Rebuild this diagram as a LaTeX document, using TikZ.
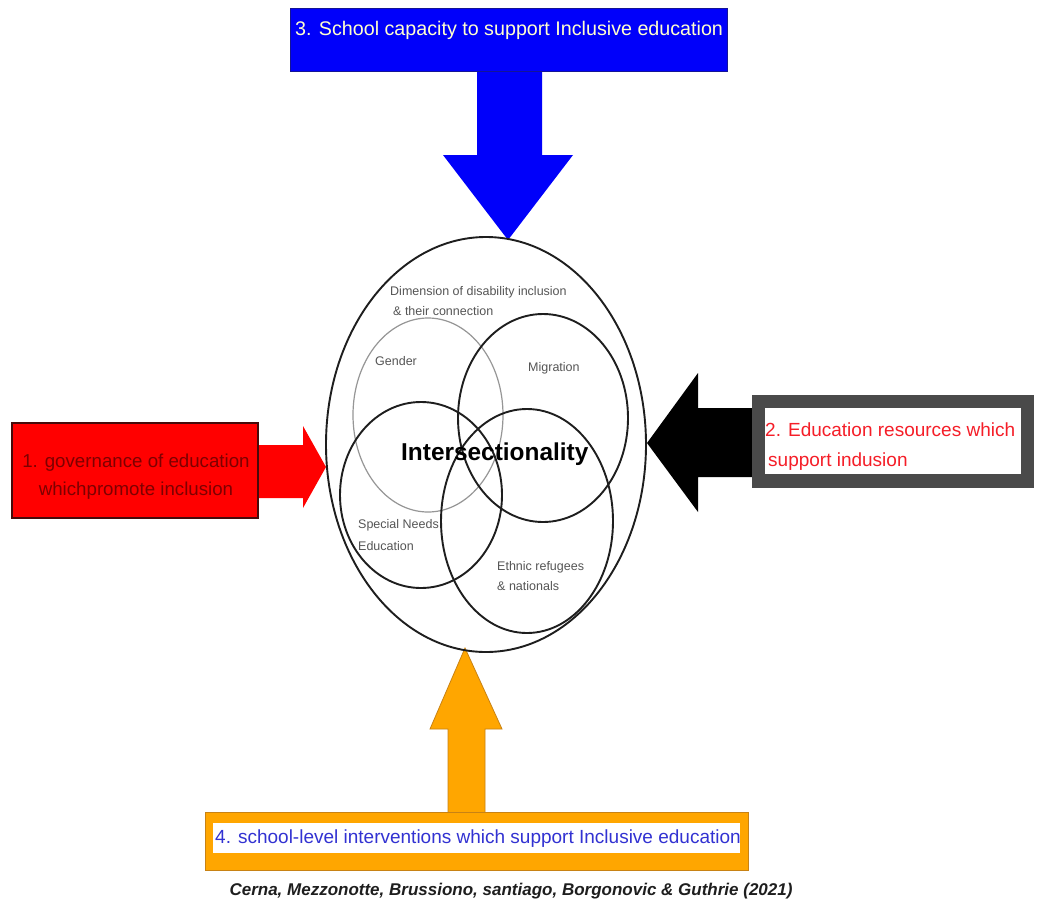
\documentclass[tikz,border=0pt]{standalone}
\usepackage{fontspec}
\setmainfont{Liberation Sans}
\definecolor{cblue}{RGB}{0,0,250}
\definecolor{cblueedge}{RGB}{20,20,150}
\definecolor{cpale}{RGB}{255,255,205}
\definecolor{cred}{RGB}{255,0,0}
\definecolor{credge}{RGB}{70,10,10}
\definecolor{cdarkred}{RGB}{125,0,0}
\definecolor{cgrayframe}{RGB}{74,74,74}
\definecolor{ctextred}{RGB}{245,30,40}
\definecolor{corange}{RGB}{255,166,0}
\definecolor{coredge}{RGB}{200,130,20}
\definecolor{ctextblue}{RGB}{50,50,210}
\definecolor{clabel}{RGB}{85,85,85}
\definecolor{cring}{RGB}{30,30,30}
\definecolor{cgender}{RGB}{150,150,150}
\definecolor{ccaption}{RGB}{30,30,30}
\begin{document}
\begin{tikzpicture}[x=1pt,y=-1pt,
  lbl/.style={font=\fontsize{12.5}{14}\selectfont, text=clabel, inner sep=0pt, anchor=base west},
  ring/.style={draw=cring, line width=1.9pt},
  boxtxt/.style={inner sep=0pt},
]
\useasboundingbox[fill=white] (0,0) rectangle (1038,910);

% ---- 3: top (blue)
\fill[cblue] (477,70) -- (477,155) -- (443,155) -- (508,240) -- (573,155) -- (542,155) -- (542,70) -- cycle;
\path[fill=cblue, draw=cblueedge, line width=0.8pt] (290,8) rectangle (727,71);
\node[boxtxt, anchor=base west, text=cpale, font=\fontsize{19.7}{22}\selectfont] (t3) at (295,35) {3. School capacity to support Inclusive education};

% ---- 1: left (red)
\fill[cred] (257,445) -- (303,445) -- (303,426) -- (326,467) -- (303,508) -- (303,498) -- (257,498) -- cycle;
\path[fill=cred, draw=credge, line width=2pt] (12,423) rectangle (258,518);
\node[boxtxt, anchor=base, text=cdarkred, font=\fontsize{18.7}{22}\selectfont] (t1a) at (136,467) {1. governance of education};
\node[boxtxt, anchor=base, text=cdarkred, font=\fontsize{18.7}{22}\selectfont] (t1b) at (136,495) {whichpromote inclusion};

% ---- 2: right (black arrow, gray frame)
\fill[black] (753,408) -- (698,408) -- (698,373) -- (647,443) -- (698,512) -- (698,477) -- (753,477) -- cycle;
\fill[cgrayframe] (752,395) rectangle (1034,488);
\fill[white] (765,408) rectangle (1021,474);
\node[boxtxt, anchor=base west, text=ctextred, font=\fontsize{19}{22}\selectfont] (t2a) at (765,436) {2. Education resources which};
\node[boxtxt, anchor=base west, text=ctextred, font=\fontsize{19}{22}\selectfont] (t2b) at (768,466) {support indusion};

% ---- 4: bottom (orange)
\path[fill=corange, draw=coredge, line width=0.8pt] (448,813) -- (448,729) -- (430,729) -- (465,648) -- (502,729) -- (485,729) -- (485,813);
\path[fill=corange, draw=coredge, line width=0.8pt] (205,812) rectangle (748,870);
\fill[white] (213,823) rectangle (740,853);
\node[boxtxt, anchor=base west, text=ctextblue, font=\fontsize{19}{22}\selectfont] (t4) at (215,843) {4. school-level interventions which support Inclusive education};

% ---- central diagram
\draw[draw=cgender, line width=1.2pt] (428,415) ellipse [x radius=75, y radius=97];
\draw[ring] (543,418) ellipse [x radius=85, y radius=104];
\draw[ring] (421,495) ellipse [x radius=81, y radius=93];
\draw[ring] (527,521) ellipse [x radius=86, y radius=112];
\draw[draw=cring, line width=1.9pt] (486,444.5) ellipse [x radius=160, y radius=207.5];

\node[lbl] (dim1) at (390,295) {Dimension of disability inclusion};
\node[lbl] (dim2) at (393,315) {\& their connection};
\node[lbl] (gender) at (375,365) {Gender};
\node[lbl] (migr) at (528,371) {Migration};
\node[lbl] (sne1) at (358,528) {Special Needs};
\node[lbl] (sne2) at (358,550) {Education};
\node[lbl] (eth1) at (497,570) {Ethnic refugees};
\node[lbl] (eth2) at (497,590) {\& nationals};
\node[boxtxt, anchor=base west, font=\fontsize{24.4}{28}\selectfont\bfseries, text=black] (inter) at (401,460) {Intersectionality};

% ---- caption
\node[boxtxt, anchor=base, text=ccaption, font=\fontsize{17}{20}\selectfont\bfseries\itshape] (cap) at (511,895) {Cerna, Mezzonotte, Brussiono, santiago, Borgonovic \& Guthrie (2021)};
\end{tikzpicture}
\end{document}
